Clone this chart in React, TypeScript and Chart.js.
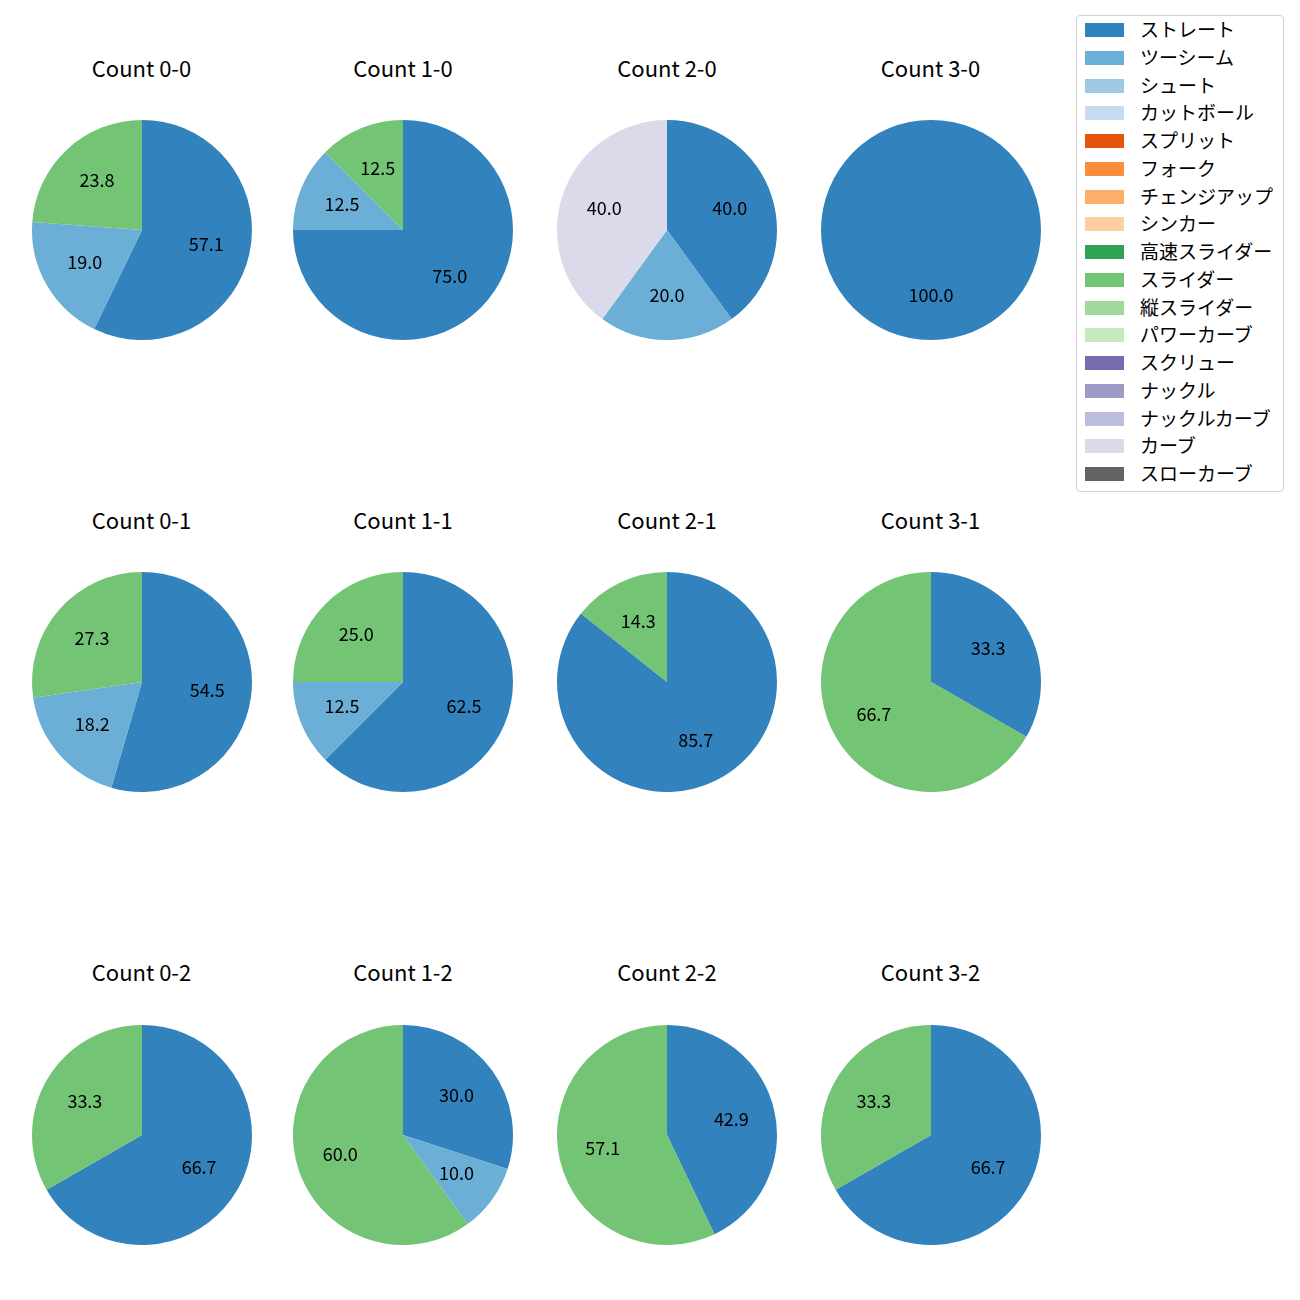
import React, { useEffect, useRef } from "react";
import { Chart, registerables } from "chart.js";

Chart.register(...registerables);

const pitchTypes = [
  "ストレート", "ツーシーム", "シュート", "カットボール", "スプリット", "フォーク",
  "チェンジアップ", "シンカー", "高速スライダー", "スライダー", "縦スライダー",
  "パワーカーブ", "スクリュー", "ナックル", "ナックルカーブ", "カーブ", "スローカーブ",
];
const pitchColors = [
  "#3182bd", "#6baed6", "#9ecae1", "#c6dbef", "#e6550d", "#fd8d3c",
  "#fdae6b", "#fdd0a2", "#31a354", "#74c476", "#a1d99b", "#c7e9c0",
  "#756bb1", "#9e9ac8", "#bcbddc", "#dadaeb", "#636363",
];

const countTitles = [
  "Count 0-0", "Count 1-0", "Count 2-0", "Count 3-0",
  "Count 0-1", "Count 1-1", "Count 2-1", "Count 3-1",
  "Count 0-2", "Count 1-2", "Count 2-2", "Count 3-2",
];
const shownTypes = ["ストレート", "ツーシーム", "スライダー", "カーブ"];
const straightPct = [57.1, 75.0, 40.0, 100.0, 54.5, 62.5, 85.7, 33.3, 66.7, 30.0, 42.9, 66.7];
const twoSeamPct = [19.0, 12.5, 20.0, 0, 18.2, 12.5, 0, 0, 0, 10.0, 0, 0];
const sliderPct = [23.8, 12.5, 0, 0, 27.3, 25.0, 14.3, 66.7, 33.3, 60.0, 57.1, 33.3];
const curvePct = [0, 0, 40.0, 0, 0, 0, 0, 0, 0, 0, 0, 0];

const colCenters = [141.5, 403, 667, 930.5];
const rowCenters = [229.5, 682, 1135];
const titleY = [67, 519, 971];
const RADIUS = 110;
const PAD = 10;
const FONT = "'Noto Sans CJK JP', 'Noto Sans', sans-serif";

const pctLabelPlugin = {
  id: "pctLabels",
  afterDatasetsDraw(chart: any) {
    const ctx = chart.ctx;
    const meta = chart.getDatasetMeta(0);
    const data = chart.data.datasets[0].data as number[];
    ctx.save();
    ctx.fillStyle = "#000";
    ctx.font = `18px ${FONT}`;
    ctx.textAlign = "center";
    ctx.textBaseline = "middle";
    meta.data.forEach((arc: any, i: number) => {
      const v = data[i];
      if (!v) return;
      const p = arc.getProps(["x", "y", "startAngle", "endAngle", "outerRadius"], true);
      const mid = (p.startAngle + p.endAngle) / 2;
      const r = 0.6 * p.outerRadius;
      ctx.fillText(v.toFixed(1), p.x + Math.cos(mid) * r, p.y + Math.sin(mid) * r - 1);
    });
    ctx.restore();
  },
};

function PieChart({ idx }: { idx: number }) {
  const ref = useRef<HTMLCanvasElement>(null);
  useEffect(() => {
    const series = [straightPct[idx], twoSeamPct[idx], sliderPct[idx], curvePct[idx]];
    const labels: string[] = [];
    const values: number[] = [];
    const colors: string[] = [];
    series.forEach((v, k) => {
      if (v > 0) {
        labels.push(shownTypes[k]);
        values.push(v);
        colors.push(pitchColors[pitchTypes.indexOf(shownTypes[k])]);
      }
    });
    const chart = new Chart(ref.current!, {
      type: "pie",
      data: {
        labels,
        datasets: [{ data: values, backgroundColor: colors, borderWidth: 0, offset: 0, hoverOffset: 0 }],
      },
      options: {
        responsive: false,
        animation: false,
        layout: { padding: PAD },
        events: [],
        plugins: { legend: { display: false }, tooltip: { enabled: false } },
      },
      plugins: [pctLabelPlugin],
    });
    return () => chart.destroy();
  }, [idx]);
  const col = idx % 4;
  const row = Math.floor(idx / 4);
  const size = 2 * (RADIUS + PAD);
  return (
    <>
      <div
        style={{
          position: "absolute",
          left: colCenters[col] - 120,
          width: 240,
          top: titleY[row] - 15,
          height: 30,
          lineHeight: "30px",
          textAlign: "center",
          fontFamily: FONT,
          fontSize: 22,
          color: "#000",
        }}
      >
        {countTitles[idx]}
      </div>
      <canvas
        ref={ref}
        width={size}
        height={size}
        style={{
          position: "absolute",
          left: colCenters[col] - size / 2,
          top: rowCenters[row] - size / 2,
          width: size,
          height: size,
        }}
      />
    </>
  );
}

export default function App() {
  return (
    <div style={{ position: "absolute", left: 0, top: 0, width: 1300, height: 1300, background: "#fff" }}>
      {countTitles.map((_, i) => (
        <PieChart key={i} idx={i} />
      ))}
      <div
        style={{
          position: "absolute",
          left: 1076,
          top: 15,
          width: 208,
          height: 477,
          border: "1px solid #d0d0d0",
          borderRadius: 4,
          boxSizing: "border-box",
        }}
      >
        {pitchTypes.map((name, i) => (
          <div
            key={name}
            style={{
              position: "absolute",
              left: 0,
              top: i * 27.75 - 1,
              height: 28,
              width: 208,
            }}
          >
            <div
              style={{
                position: "absolute",
                left: 8,
                top: 8,
                width: 39,
                height: 14,
                background: pitchColors[i],
              }}
            />
            <div
              style={{
                position: "absolute",
                left: 63,
                top: 0,
                lineHeight: "28px",
                fontFamily: FONT,
                fontSize: 19,
                color: "#000",
                whiteSpace: "nowrap",
              }}
            >
              {name}
            </div>
          </div>
        ))}
      </div>
    </div>
  );
}
